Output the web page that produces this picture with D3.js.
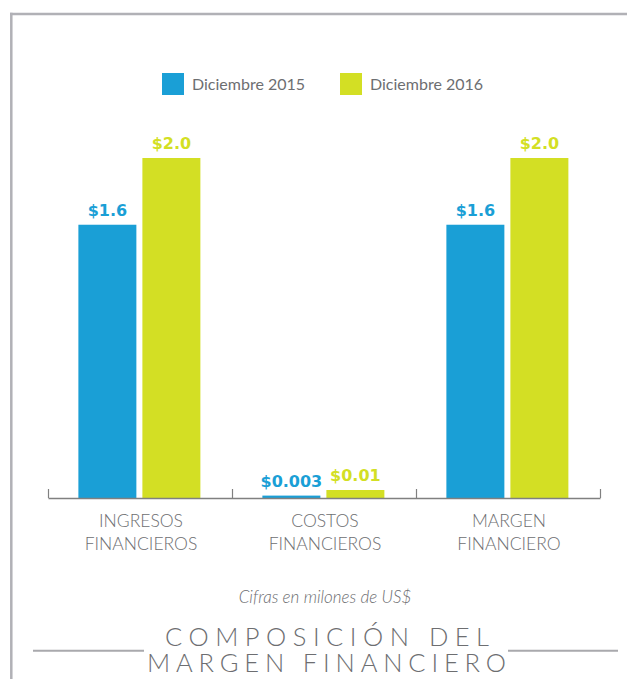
<!DOCTYPE html>
<html>
<head>
<meta charset="utf-8">
<script src="https://cdn.jsdelivr.net/npm/d3@7"></script>
<style>
  body { margin: 0; background: #fff; }
  svg { display: block; }
</style>
</head>
<body>
<script>
var w = 627;
var h = 679;

// Data
var categories = [["INGRESOS", "FINANCIEROS"], ["COSTOS", "FINANCIEROS"], ["MARGEN", "FINANCIERO"]];
var seriesNames = ["Diciembre 2015", "Diciembre 2016"];
var values2015 = [1.6, 0.003, 1.6];
var values2016 = [2.0, 0.01, 2.0];
var labels2015 = ["$1.6", "$0.003", "$1.6"];
var labels2016 = ["$2.0", "$0.01", "$2.0"];
var colors = ["#1a9fd6", "#d3df24"];
var caption = "Cifras en milones de US$";
var titleLines = ["COMPOSICIÓN DEL", "MARGEN FINANCIERO"];

var gray = "#6d6e71";
var series = [values2015, values2016];
var seriesLabels = [labels2015, labels2016];

var svg = d3.select("body")
  .append("svg")
  .attr("width", w)
  .attr("height", h);

// Frame
svg.append("line")
  .attr("x1", 10).attr("x2", w)
  .attr("y1", 14).attr("y2", 14)
  .attr("stroke", "#b1b1b6").attr("stroke-width", 2.5);
svg.append("line")
  .attr("x1", 11.3).attr("x2", 11.3)
  .attr("y1", 12.8).attr("y2", h)
  .attr("stroke", "#b1b1b6").attr("stroke-width", 2.5);

// Scales
var x0 = d3.scaleBand()
  .domain(d3.range(categories.length))
  .range([48, 600])
  .paddingInner(0.337)
  .paddingOuter(0.1685)
  .align(0.49);
var x1 = d3.scaleBand()
  .domain(d3.range(seriesNames.length))
  .range([0, x0.bandwidth()])
  .paddingInner(0.094);
// small costs are stretched so they stay visible, like in the original
var y = d3.scaleLinear()
  .domain([0, 0.01, 2.0])
  .range([498, 490, 158]);

// Legend
var legend = svg.append("g").selectAll("g")
  .data(seriesNames)
  .enter()
  .append("g")
  .attr("transform", function(d, i) { return "translate(" + (162 + i * 178) + ",73)"; });
legend.append("rect")
  .attr("width", 22).attr("height", 22)
  .attr("fill", function(d, i) { return colors[i]; });
legend.append("text")
  .attr("x", 30).attr("y", 16.5)
  .attr("font-family", "Lato, sans-serif")
  .attr("font-size", 16)
  .attr("fill", gray)
  .text(function(d) { return d; });

// Bars
var groups = svg.append("g").selectAll("g")
  .data(categories)
  .enter()
  .append("g")
  .attr("transform", function(d, i) { return "translate(" + x0(i) + ",0)"; });

var cells = groups.selectAll("g")
  .data(function(d, i) {
    return series.map(function(s, j) {
      return { s: j, v: s[i], label: seriesLabels[j][i] };
    });
  })
  .enter()
  .append("g");

cells.append("rect")
  .attr("x", function(d) { return x1(d.s); })
  .attr("width", x1.bandwidth())
  .attr("y", function(d) { return y(d.v); })
  .attr("height", function(d) { return y(0) - y(d.v); })
  .attr("fill", function(d) { return colors[d.s]; });

cells.append("text")
  .attr("x", function(d) { return x1(d.s) + x1.bandwidth() / 2; })
  .attr("y", function(d) { return y(d.v) - 9; })
  .attr("text-anchor", "middle")
  .attr("font-family", "'DejaVu Sans', sans-serif")
  .attr("font-weight", "bold")
  .attr("font-size", 16)
  .attr("fill", function(d) { return colors[d.s]; })
  .text(function(d) { return d.label; });

// Axis with ticks at group boundaries
var xb = d3.scaleLinear().domain([0, categories.length]).range([48, 600]);
var axis = svg.append("g")
  .attr("transform", "translate(0," + y(0) + ")")
  .call(d3.axisBottom(xb)
    .tickValues(d3.range(categories.length + 1))
    .tickSize(-9)
    .tickSizeOuter(0)
    .tickFormat(""));
axis.select(".domain").attr("stroke", "#808080").attr("stroke-width", 1.5);
axis.selectAll(".tick line").attr("stroke", "#808080").attr("stroke-width", 1.2);

// Category labels
var catLabels = svg.append("g").selectAll("text")
  .data(categories)
  .enter()
  .append("text")
  .attr("x", function(d, i) { return xb(i + 0.5) + 1; })
  .attr("y", 527)
  .attr("text-anchor", "middle")
  .attr("font-family", "Lato, sans-serif")
  .attr("font-weight", 300)
  .attr("font-size", 17.5)
  .attr("fill", gray);
catLabels.selectAll("tspan")
  .data(function(d) { return d; })
  .enter()
  .append("tspan")
  .attr("x", function() { return d3.select(this.parentNode).attr("x"); })
  .attr("dy", function(d, i) { return i ? 23 : 0; })
  .text(function(d) { return d; });

// Caption
svg.append("text")
  .attr("x", 325).attr("y", 603)
  .attr("text-anchor", "middle")
  .attr("font-family", "Lato, sans-serif")
  .attr("font-style", "italic")
  .attr("font-weight", 300)
  .attr("font-size", 17)
  .attr("fill", gray)
  .text(caption);

// Title
var titleX = [165, 147];
var titleW = [324, 359];
svg.append("g").selectAll("text")
  .data(titleLines)
  .enter()
  .append("text")
  .attr("x", function(d, i) { return titleX[i]; })
  .attr("y", function(d, i) { return 646 + i * 26; })
  .attr("textLength", function(d, i) { return titleW[i]; })
  .attr("lengthAdjust", "spacing")
  .attr("font-family", "Lato, sans-serif")
  .attr("font-weight", 300)
  .attr("font-size", 25.5)
  .attr("fill", gray)
  .text(function(d) { return d; });

svg.append("g").selectAll("line")
  .data([[33, 144], [508, 618]])
  .enter()
  .append("line")
  .attr("x1", function(d) { return d[0]; })
  .attr("x2", function(d) { return d[1]; })
  .attr("y1", 650.7).attr("y2", 650.7)
  .attr("stroke", "#a9a9ad")
  .attr("stroke-width", 2);
</script>
</body>
</html>
